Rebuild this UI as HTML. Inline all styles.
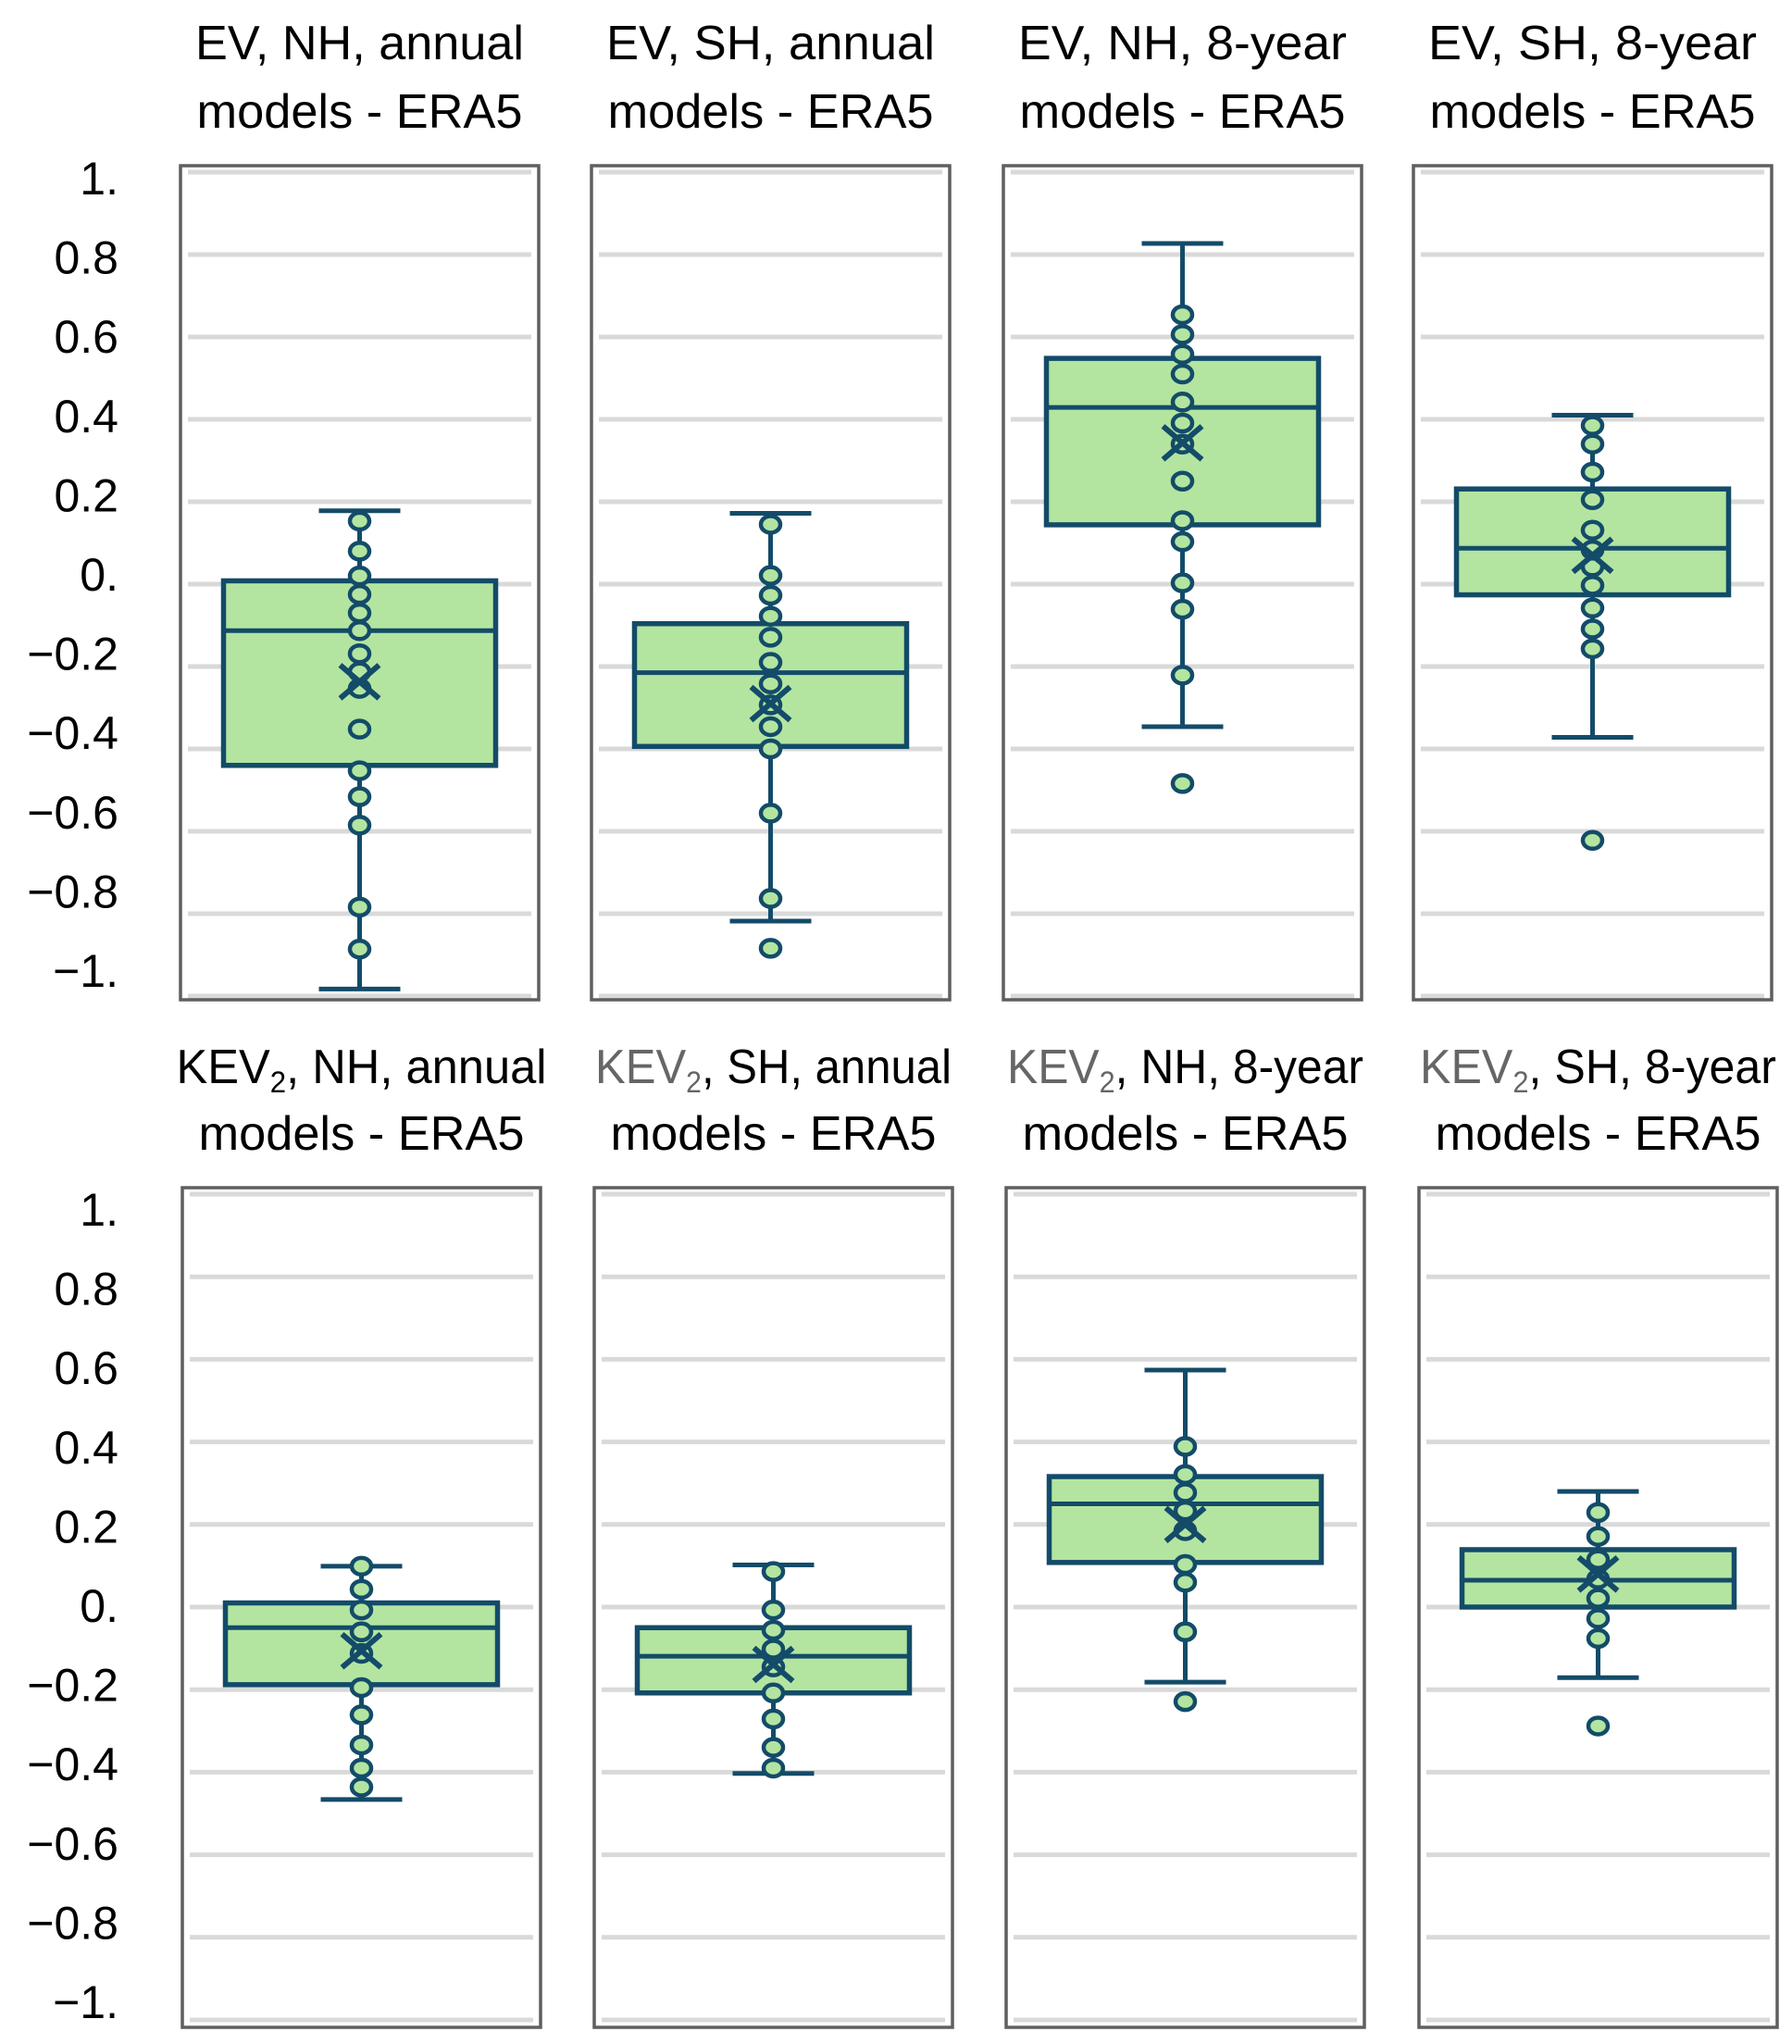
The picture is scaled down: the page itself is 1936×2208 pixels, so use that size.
<!DOCTYPE html>
<html><head><meta charset="utf-8"><style>
html,body{margin:0;padding:0;background:#fff;}
svg{display:block;}
text{font-family:"Liberation Sans",sans-serif;}
</style></head><body>
<svg id="chart" width="1936" height="2208" viewBox="0 0 1936 2208" xmlns="http://www.w3.org/2000/svg"></svg>
<script>
// ---- data ----
const titlesLine1 = ["EV, NH, annual","EV, SH, annual","EV, NH, 8-year","EV, SH, 8-year",
                     "KEV2, NH, annual","KEV2, SH, annual","KEV2, NH, 8-year","KEV2, SH, 8-year"];
const tickValues = [1,0.8,0.6,0.4,0.2,0,-0.2,-0.4,-0.6,-0.8,-1];
const tickLabels = ["1.","0.8","0.6","0.4","0.2","0.","\u22120.2","\u22120.4","\u22120.6","\u22120.8","\u22121."];
const whiskerHigh = [0.178,0.172,0.827,0.41, 0.099,0.102,0.574,0.28];
const whiskerLow  = [-0.983,-0.818,-0.346,-0.372, -0.466,-0.403,-0.182,-0.171];
const q3Values    = [0.008,-0.096,0.548,0.231, 0.01,-0.05,0.316,0.139];
const q1Values    = [-0.44,-0.394,0.144,-0.026, -0.188,-0.208,0.108,0.0];
const medianValues= [-0.113,-0.215,0.429,0.087, -0.05,-0.119,0.25,0.065];
const meanValues  = [-0.237,-0.29,0.343,0.07, -0.106,-0.139,0.2,0.08];
const points0 = [0.153,0.08,0.02,-0.025,-0.07,-0.113,-0.169,-0.213,-0.253,-0.352,-0.453,-0.516,-0.585,-0.784,-0.886];
const points1 = [0.145,0.021,-0.027,-0.078,-0.129,-0.19,-0.242,-0.293,-0.346,-0.40,-0.556,-0.763,-0.884];
const points2 = [0.654,0.606,0.558,0.51,0.442,0.391,0.34,0.25,0.154,0.103,0.003,-0.061,-0.221,-0.484];
const points3 = [0.385,0.34,0.272,0.205,0.131,0.083,0.042,-0.003,-0.058,-0.109,-0.157,-0.622];
const points4 = [0.099,0.043,-0.007,-0.06,-0.112,-0.195,-0.261,-0.334,-0.39,-0.436];
const points5 = [0.086,-0.007,-0.056,-0.102,-0.145,-0.208,-0.271,-0.34,-0.39];
const points6 = [0.389,0.321,0.277,0.233,0.185,0.103,0.06,-0.06,-0.229];
const points7 = [0.229,0.171,0.115,0.068,0.021,-0.028,-0.076,-0.288];
const pointsAll = [points0,points1,points2,points3,points4,points5,points6,points7];

// ---- layout ----
const NS="http://www.w3.org/2000/svg";
const svg=document.getElementById('chart');
const LINE="#134b69", FILL="#b3e5a0";
const panelLeft=[[195,639,1084,1527],[197,642,1087,1533]];
const panelW=387;
const rowTop=[179,1283], rowBottom=[1080,2190];
const gridTop=[186,1290], perUnit=[445,446];
const labelTop=[210,1324], labelStep=85.6;
const titleBase=[[64,138],[1170,1242]];
function yScale(row,v){return gridTop[row]+(1-v)*perUnit[row];}
function mk(tag,attrs,parent){const e=document.createElementNS(NS,tag);for(const k in attrs)e.setAttribute(k,attrs[k]);(parent||svg).appendChild(e);return e;}

for(let row=0;row<2;row++){
  for(let i=0;i<tickValues.length;i++){
    const t=mk('text',{x:128,y:labelTop[row]+i*labelStep,'text-anchor':'end','font-size':50,fill:'#000'});
    
    
    t.textContent=tickLabels[i];
  }
  for(let c=0;c<4;c++){
    const p=row*4+c;
    const x0=panelLeft[row][c], cx=x0+panelW/2;
    const g=mk('g',{});
    
    
    const t1=mk('text',{x:cx,y:titleBase[row][0],'text-anchor':'middle','font-size':52,fill:'#000',textLength:row?(c?385:400):355,lengthAdjust:'spacingAndGlyphs'},g);
    
    
    const raw=titlesLine1[p];
    if(raw.startsWith('KEV2')){
      const s1=mk('tspan',{fill:c?'#666':'#000'},t1); s1.textContent='KEV';
      const s2=mk('tspan',{fill:c?'#666':'#000','font-size':32,dy:10},t1); s2.textContent='2';
      const s3=mk('tspan',{dy:-10},t1); s3.textContent=raw.slice(4);
    } else t1.textContent=raw;
    const t2=mk('text',{x:cx,y:titleBase[row][1],'text-anchor':'middle','font-size':52,fill:'#000',textLength:352,lengthAdjust:'spacingAndGlyphs'},g);
    
    
    t2.textContent='models - ERA5';
    for(const v of tickValues){
      const l=mk('line',{x1:x0+8,x2:x0+panelW-8,y1:yScale(row,v),y2:yScale(row,v),stroke:'#d9d9d9','stroke-width':5},g);
      
      
    }
    const fr=mk('rect',{x:x0,y:rowTop[row],width:panelW,height:rowBottom[row]-rowTop[row],fill:'none',stroke:'#5f5f5f','stroke-width':3.5},g);
    
    
    const w=mk('line',{x1:cx,x2:cx,y1:yScale(row,whiskerHigh[p]),y2:yScale(row,whiskerLow[p]),stroke:LINE,'stroke-width':5},g);
    
    
    for(const v of [whiskerHigh[p],whiskerLow[p]]){
      const cap=mk('line',{x1:cx-44,x2:cx+44,y1:yScale(row,v),y2:yScale(row,v),stroke:LINE,'stroke-width':5},g);
      
      
    }
    const bx=mk('rect',{x:cx-147,y:yScale(row,q3Values[p]),width:294,height:yScale(row,q1Values[p])-yScale(row,q3Values[p]),fill:FILL,stroke:LINE,'stroke-width':5.5},g);
    
    
    const md=mk('line',{x1:cx-147,x2:cx+147,y1:yScale(row,medianValues[p]),y2:yScale(row,medianValues[p]),stroke:LINE,'stroke-width':5},g);
    
    
    for(const v of pointsAll[p]){
      const pt=mk('ellipse',{cx:cx,cy:yScale(row,v),rx:10.5,ry:9,fill:FILL,stroke:LINE,'stroke-width':4.5},g);
      
      
    }
    const my=yScale(row,meanValues[p]);
    const mx=mk('path',{d:`M${cx-21} ${my-18}L${cx+21} ${my+18}M${cx+21} ${my-18}L${cx-21} ${my+18}`,stroke:LINE,'stroke-width':6,fill:'none'},g);
    
    
  }
}
</script>
</body></html>
